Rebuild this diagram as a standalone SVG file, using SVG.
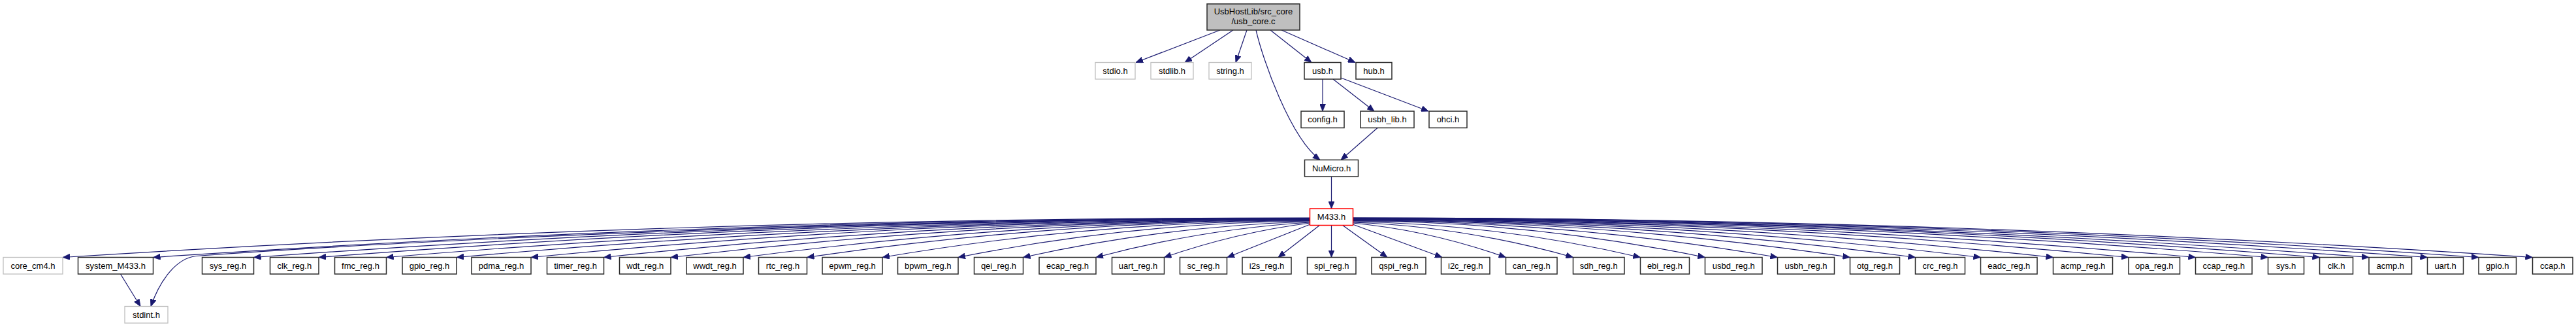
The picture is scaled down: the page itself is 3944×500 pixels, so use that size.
<svg xmlns="http://www.w3.org/2000/svg" width="3944" height="500" viewBox="0 0 3944 500">
<style>
rect{fill:#fff;stroke:#2a2a2a;stroke-width:1.5}
.g rect{stroke:#bfbfbf;stroke-width:1.3}
.r rect{stroke:#ff0000}
.root rect{fill:#bfbfbf}
text{font-family:"Liberation Sans",Arial,sans-serif;font-size:13px;text-anchor:middle;fill:#000}
#edges path{fill:none;stroke:#191970;stroke-width:1.2;marker-end:url(#arr)}
</style>
<defs>
<marker id="arr" markerUnits="userSpaceOnUse" viewBox="0 0 11 9" markerWidth="11" markerHeight="9" refX="11" refY="4.5" orient="auto">
<path d="M0,0 L11,4.5 L0,9 z" fill="#191970" stroke="#191970" stroke-width="0.8"/>
</marker>
</defs>
<rect x="0" y="0" width="3944" height="500" style="fill:#fff;stroke:none"/>
<g id="edges">
<path d="M1868,46 L1739,95.5"/>
<path d="M1888,46 L1814,95.5"/>
<path d="M1909,46 L1892,95.5"/>
<path d="M1923,46 C1933,90 1975,210 2021,244.5"/>
<path d="M1945,46 L2008,95.5"/>
<path d="M1962,46 L2075,95.5"/>
<path d="M2025,121 L2025,170"/>
<path d="M2041,121 L2104,170"/>
<path d="M2053,119 L2187,170"/>
<path d="M2109,195.5 L2053,244.5"/>
<path d="M2038.5,270 L2038.5,319"/>
<path d="M2006,333 Q1051,333 96,393.5"/>
<path d="M2006,333.5 Q1120,333.5 234.5,393.5"/>
<path d="M2006,334 C1300,334 600,370 300,391.5 C270,395 245,428 231,468.5"/>
<path d="M184.5,419 L215,468.5"/>
<path d="M2006,334 Q1197,334 388.5,393.5"/>
<path d="M2006,334 Q1247,334 488,393.5"/>
<path d="M2006,334.5 Q1299,334.5 591.5,393.5"/>
<path d="M2006,335 Q1352,335 699,393.5"/>
<path d="M2006,335 Q1409,335 813,393.5"/>
<path d="M2006,335.5 Q1465,335.5 924.5,393.5"/>
<path d="M2006,336 Q1516,336 1027,393.5"/>
<path d="M2006,336.5 Q1572,336.5 1138,393.5"/>
<path d="M2006,337 Q1621,337 1235.5,393.5"/>
<path d="M2006,337.5 Q1678,338 1351,393.5"/>
<path d="M2006,338 Q1736,340 1467,393.5"/>
<path d="M2006,339 Q1786,345 1566.5,393.5"/>
<path d="M2006,340 Q1842,350 1678,393.5"/>
<path d="M2006,341 Q1894,355 1782.5,393.5"/>
<path d="M2006,343 L1879,393.5"/>
<path d="M2021,344 L1957,393.5"/>
<path d="M2038.5,344 L2038.5,393.5"/>
<path d="M2055,344 L2124,393.5"/>
<path d="M2071,343 L2208,393.5"/>
<path d="M2071,341 Q2188,352 2305.5,393.5"/>
<path d="M2071,340 Q2240,346 2408.5,393.5"/>
<path d="M2071,339 Q2291,342 2511.5,393.5"/>
<path d="M2071,338 Q2341,338 2610.5,393.5"/>
<path d="M2071,337.5 Q2396,337.5 2721.5,393.5"/>
<path d="M2071,337 Q2452,337 2832.5,393.5"/>
<path d="M2071,336.5 Q2502,336.5 2932.5,393.5"/>
<path d="M2071,336 Q2552,336 3032.5,393.5"/>
<path d="M2071,335.5 Q2607,335.5 3143.5,393.5"/>
<path d="M2071,335 Q2665,335 3259,393.5"/>
<path d="M2071,335 Q2716,335 3361.5,393.5"/>
<path d="M2071,334.5 Q2772,334.5 3472.5,393.5"/>
<path d="M2071,334 Q2811,334 3551.5,393.5"/>
<path d="M2071,334 Q2849,334 3627,393.5"/>
<path d="M2071,333.5 Q2894,333.5 3716.5,393.5"/>
<path d="M2071,333 Q2933,333 3795,393.5"/>
<path d="M2071,333 Q2974,333 3877.5,393.5"/>
</g>
<g id="node-root" class="root"><rect x="1848" y="6" width="142" height="40"/><text x="1919" y="22">UsbHostLib/src_core</text><text x="1919" y="37">/usb_core.c</text></g>
<g id="node-stdio" class="g"><rect x="1677" y="95.5" width="61" height="25.5"/><text x="1707.5" y="112.5">stdio.h</text></g>
<g id="node-stdlib" class="g"><rect x="1762" y="95.5" width="65" height="25.5"/><text x="1794.5" y="112.5">stdlib.h</text></g>
<g id="node-string" class="g"><rect x="1851" y="95.5" width="65" height="25.5"/><text x="1883.5" y="112.5">string.h</text></g>
<g id="node-usb"><rect x="1997" y="95.5" width="56" height="25.5"/><text x="2025" y="112.5">usb.h</text></g>
<g id="node-hub"><rect x="2076" y="95.5" width="55" height="25.5"/><text x="2103.5" y="112.5">hub.h</text></g>
<g id="node-config"><rect x="1992" y="170" width="66" height="25.5"/><text x="2025" y="187">config.h</text></g>
<g id="node-usbh_lib"><rect x="2083" y="170" width="82" height="25.5"/><text x="2124" y="187">usbh_lib.h</text></g>
<g id="node-ohci"><rect x="2188" y="170" width="58" height="25.5"/><text x="2217" y="187">ohci.h</text></g>
<g id="node-NuMicro"><rect x="1997.5" y="244.5" width="82" height="25.5"/><text x="2038.5" y="261.5">NuMicro.h</text></g>
<g id="node-M433" class="r"><rect x="2005.5" y="319" width="66" height="25.5"/><text x="2038.5" y="336">M433.h</text></g>
<g id="node-stdint" class="g"><rect x="191" y="468.5" width="66" height="25.5"/><text x="224" y="485.5">stdint.h</text></g>
<g id="node-core_cm4" class="g"><rect x="5" y="393.5" width="91" height="25.5"/><text x="50.5" y="410.5">core_cm4.h</text></g>
<g id="node-system_M433"><rect x="119.5" y="393.5" width="115" height="25.5"/><text x="177" y="410.5">system_M433.h</text></g>
<g id="node-sys_reg"><rect x="309.5" y="393.5" width="79" height="25.5"/><text x="349" y="410.5">sys_reg.h</text></g>
<g id="node-clk_reg"><rect x="413.5" y="393.5" width="74.5" height="25.5"/><text x="450.75" y="410.5">clk_reg.h</text></g>
<g id="node-fmc_reg"><rect x="512.5" y="393.5" width="79" height="25.5"/><text x="552" y="410.5">fmc_reg.h</text></g>
<g id="node-gpio_reg"><rect x="616" y="393.5" width="83" height="25.5"/><text x="657.5" y="410.5">gpio_reg.h</text></g>
<g id="node-pdma_reg"><rect x="722" y="393.5" width="91" height="25.5"/><text x="767.5" y="410.5">pdma_reg.h</text></g>
<g id="node-timer_reg"><rect x="837.5" y="393.5" width="87" height="25.5"/><text x="881" y="410.5">timer_reg.h</text></g>
<g id="node-wdt_reg"><rect x="948.5" y="393.5" width="78.5" height="25.5"/><text x="987.75" y="410.5">wdt_reg.h</text></g>
<g id="node-wwdt_reg"><rect x="1051" y="393.5" width="87" height="25.5"/><text x="1094.5" y="410.5">wwdt_reg.h</text></g>
<g id="node-rtc_reg"><rect x="1161.5" y="393.5" width="74" height="25.5"/><text x="1198.5" y="410.5">rtc_reg.h</text></g>
<g id="node-epwm_reg"><rect x="1259" y="393.5" width="92" height="25.5"/><text x="1305" y="410.5">epwm_reg.h</text></g>
<g id="node-bpwm_reg"><rect x="1374.5" y="393.5" width="92.5" height="25.5"/><text x="1420.75" y="410.5">bpwm_reg.h</text></g>
<g id="node-qei_reg"><rect x="1491.5" y="393.5" width="75" height="25.5"/><text x="1529" y="410.5">qei_reg.h</text></g>
<g id="node-ecap_reg"><rect x="1591" y="393.5" width="87" height="25.5"/><text x="1634.5" y="410.5">ecap_reg.h</text></g>
<g id="node-uart_reg"><rect x="1702.5" y="393.5" width="80" height="25.5"/><text x="1742.5" y="410.5">uart_reg.h</text></g>
<g id="node-sc_reg"><rect x="1806.5" y="393.5" width="72" height="25.5"/><text x="1842.5" y="410.5">sc_reg.h</text></g>
<g id="node-i2s_reg"><rect x="1902" y="393.5" width="75" height="25.5"/><text x="1939.5" y="410.5">i2s_reg.h</text></g>
<g id="node-spi_reg"><rect x="2001.5" y="393.5" width="74.5" height="25.5"/><text x="2038.75" y="410.5">spi_reg.h</text></g>
<g id="node-qspi_reg"><rect x="2100" y="393.5" width="83" height="25.5"/><text x="2141.5" y="410.5">qspi_reg.h</text></g>
<g id="node-i2c_reg"><rect x="2206.5" y="393.5" width="74.5" height="25.5"/><text x="2243.75" y="410.5">i2c_reg.h</text></g>
<g id="node-can_reg"><rect x="2305.5" y="393.5" width="78.5" height="25.5"/><text x="2344.75" y="410.5">can_reg.h</text></g>
<g id="node-sdh_reg"><rect x="2408.5" y="393.5" width="78.5" height="25.5"/><text x="2447.75" y="410.5">sdh_reg.h</text></g>
<g id="node-ebi_reg"><rect x="2511.5" y="393.5" width="75" height="25.5"/><text x="2549" y="410.5">ebi_reg.h</text></g>
<g id="node-usbd_reg"><rect x="2610.5" y="393.5" width="87.5" height="25.5"/><text x="2654.25" y="410.5">usbd_reg.h</text></g>
<g id="node-usbh_reg"><rect x="2721.5" y="393.5" width="87" height="25.5"/><text x="2765" y="410.5">usbh_reg.h</text></g>
<g id="node-otg_reg"><rect x="2832.5" y="393.5" width="76" height="25.5"/><text x="2870.5" y="410.5">otg_reg.h</text></g>
<g id="node-crc_reg"><rect x="2932.5" y="393.5" width="76" height="25.5"/><text x="2970.5" y="410.5">crc_reg.h</text></g>
<g id="node-eadc_reg"><rect x="3032.5" y="393.5" width="86.5" height="25.5"/><text x="3075.75" y="410.5">eadc_reg.h</text></g>
<g id="node-acmp_reg"><rect x="3143.5" y="393.5" width="91" height="25.5"/><text x="3189" y="410.5">acmp_reg.h</text></g>
<g id="node-opa_reg"><rect x="3259" y="393.5" width="78.5" height="25.5"/><text x="3298.25" y="410.5">opa_reg.h</text></g>
<g id="node-ccap_reg"><rect x="3361.5" y="393.5" width="86.5" height="25.5"/><text x="3404.75" y="410.5">ccap_reg.h</text></g>
<g id="node-sys"><rect x="3472.5" y="393.5" width="55" height="25.5"/><text x="3500" y="410.5">sys.h</text></g>
<g id="node-clk"><rect x="3551.5" y="393.5" width="51" height="25.5"/><text x="3577" y="410.5">clk.h</text></g>
<g id="node-acmp"><rect x="3627" y="393.5" width="65.5" height="25.5"/><text x="3659.75" y="410.5">acmp.h</text></g>
<g id="node-uart"><rect x="3716.5" y="393.5" width="55" height="25.5"/><text x="3744" y="410.5">uart.h</text></g>
<g id="node-gpio"><rect x="3795" y="393.5" width="57.5" height="25.5"/><text x="3823.75" y="410.5">gpio.h</text></g>
<g id="node-ccap"><rect x="3877.5" y="393.5" width="61.5" height="25.5"/><text x="3908.25" y="410.5">ccap.h</text></g>
</svg>
